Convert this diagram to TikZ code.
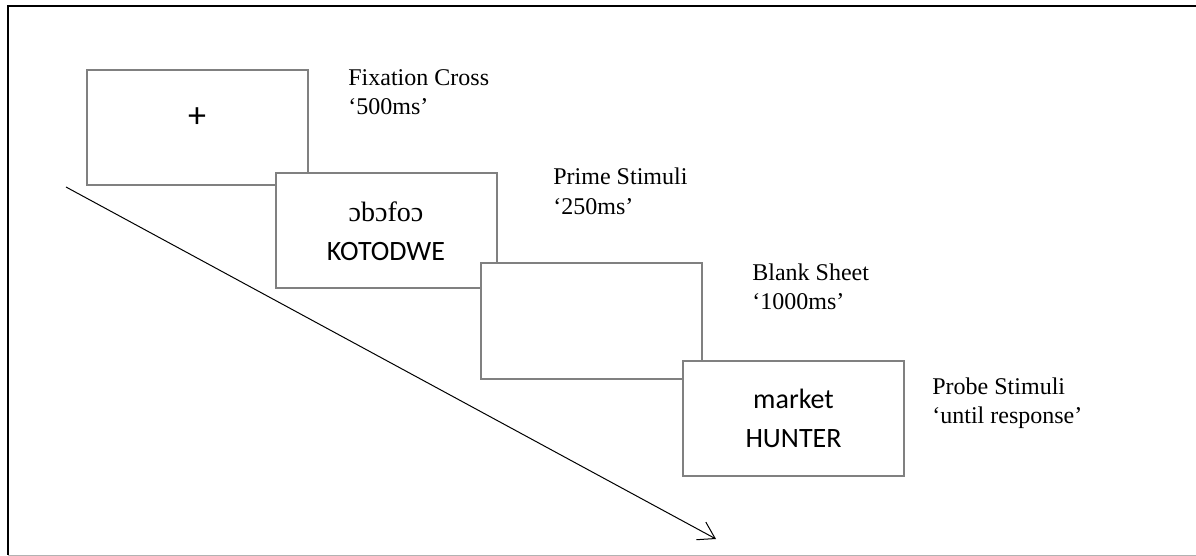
\documentclass[tikz,border=0pt]{standalone}
\usepackage{fontspec}
\setmainfont{Liberation Serif}
\newfontfamily\boxfont{Carlito}
\usetikzlibrary{arrows.meta}

\begin{document}
\begin{tikzpicture}[x=0.5pt,y=-0.5pt,
	stim/.style={rectangle,draw=gray,line width=1pt,fill=white,minimum width=110.5pt,minimum height=57.5pt,inner sep=0pt,align=center,font=\boxfont\fontsize{14}{19.5}\selectfont},
	timing/.style={anchor=base west,inner sep=0pt,align=left,font=\fontsize{12}{14.5}\selectfont}
	]
	\useasboundingbox (0,0) rectangle (1196,556);
	\draw[line width=1.2pt] (1196,6) -- (8,6) -- (8,555);
	\draw[gray!60,line width=0.5pt] (8,555) -- (1196,555);
	\coordinate (start) at (66,187);
	\coordinate (stop) at (716,539);
	\draw[line width=0.5pt,-{Straight Barb[length=8pt,width=10pt]}] (start) -- (stop);
	\node[stim,text height=1ex,text depth=1ex] (fix) at (197,128) {\fontsize{18}{20}\selectfont +};
	\node[stim] (prime) at (386,231) {{\rmfamily ɔbɔfoɔ}\\KOTODWE};
	\node[stim] (blank) at (591,321) {};
	\node[stim] (probe) at (793.5,418.5) {market\\HUNTER};
	\node[timing] (fixtime) at (348,115) {Fixation Cross\\‘500ms’};
	\node[timing] (primetime) at (553,214) {Prime Stimuli\\‘250ms’};
	\node[timing] (blanktime) at (752,309) {Blank Sheet\\‘1000ms’};
	\node[timing] (probetime) at (932,423) {Probe Stimuli\\‘until response’};
\end{tikzpicture}
\end{document}
